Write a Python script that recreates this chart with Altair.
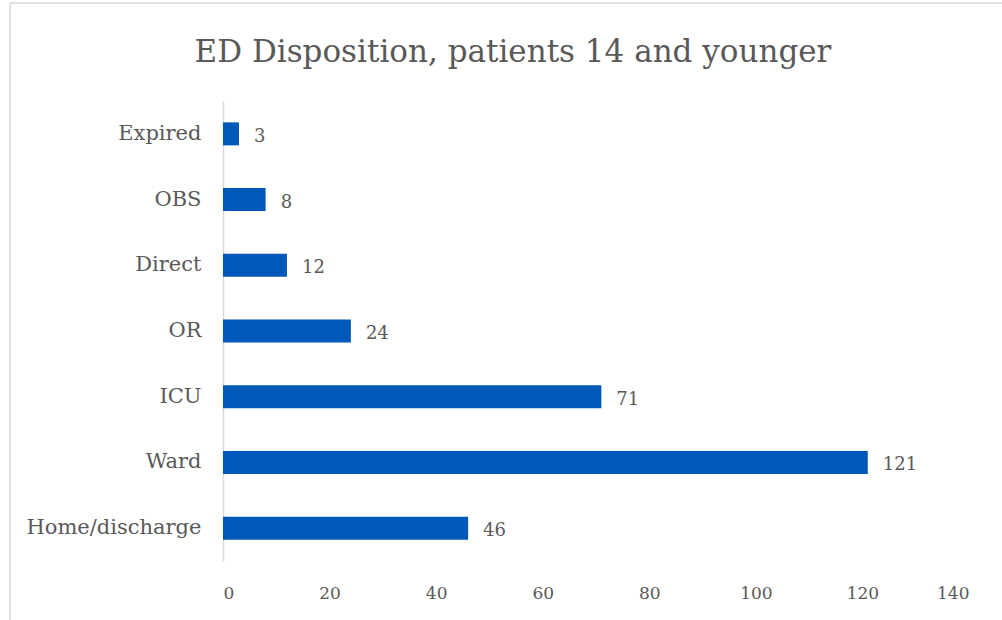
import altair as alt
import pandas as pd

# ED disposition counts for patients aged 14 and younger
categories = ["Expired", "OBS", "Direct", "OR", "ICU", "Ward", "Home/discharge"]
counts = [3, 8, 12, 24, 71, 121, 46]
x_ticks = [0, 20, 40, 60, 80, 100, 120, 140]
title_text = ["ED Disposition, patients 14 and younger"]

df = pd.DataFrame({"disposition": categories, "patients": counts})

FONT = "DejaVu Serif"
TEXT = "#595959"
BAR = "#0058B8"
LINE = "#D9D9D9"

y_enc = alt.Y(
    "disposition:N",
    sort=categories,
    title=None,
    scale=alt.Scale(paddingInner=0.65, paddingOuter=0.325),
    axis=alt.Axis(
        domain=True, domainColor=LINE, domainWidth=1.5, ticks=False,
        labelFont=FONT, labelFontSize=21, labelColor=TEXT, labelPadding=22,
    ),
)
x_enc = alt.X(
    "patients:Q",
    title=None,
    scale=alt.Scale(domain=[0, 140], nice=False),
    axis=alt.Axis(
        values=x_ticks, grid=False, domain=False, ticks=False,
        labelFont=FONT, labelFontSize=17, labelColor=TEXT, labelPadding=24,
    ),
)

bars = alt.Chart(df).mark_bar(color=BAR).encode(x=x_enc, y=y_enc)

labels = alt.Chart(df).mark_text(
    align="left", baseline="middle", dx=15, dy=3,
    font=FONT, fontSize=18, color=TEXT,
).encode(x="patients:Q", y=alt.Y("disposition:N", sort=categories), text="patients:Q")

# chart heading, centred on the outer frame
heading = alt.Chart(pd.DataFrame({"t": title_text})).mark_text(
    align="center", baseline="alphabetic", font=FONT, fontSize=31, color=TEXT,
).encode(x=alt.value(290), y=alt.value(-39), text="t:N")

# thin frame around the chart area (top and left edges)
frame_top = alt.Chart().mark_rule(color=LINE, strokeWidth=1.5).encode(
    x=alt.value(-213), x2=alt.value(800), y=alt.value(-98)
)
frame_left = alt.Chart().mark_rule(color=LINE, strokeWidth=1.5).encode(
    x=alt.value(-213), y=alt.value(-98), y2=alt.value(560)
)

chart = alt.layer(frame_top, frame_left, heading, bars, labels).properties(
    width=746,
    height=460,
    autosize=alt.AutoSizeParams(type="none"),
    padding={"left": 223, "top": 101, "right": 33, "bottom": 59},
).configure(background="white").configure_view(stroke=None)

chart.save("out.html", embed_options={"renderer": "svg", "actions": False})
